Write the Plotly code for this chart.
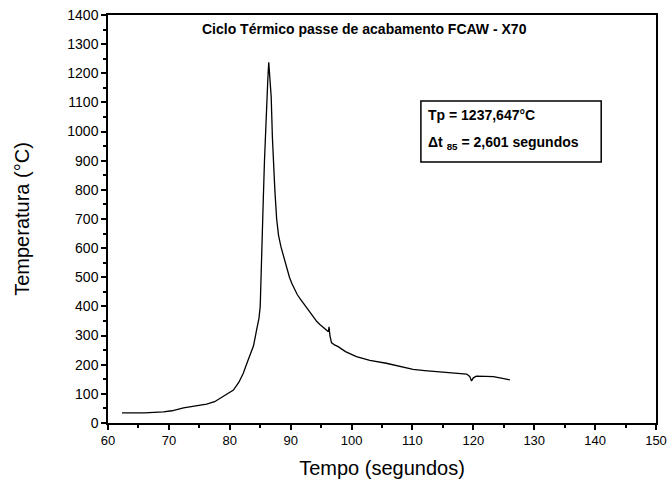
import plotly.graph_objects as go

# Thermal cycle of the FCAW finishing pass (X70 steel)
tempo = [62.3, 66.0, 69.1, 70.5, 72.4, 74.5, 76.2, 77.5, 78.4, 79.6, 80.6, 81.5,
         82.2, 83.0, 83.9, 84.4, 84.8, 85.0, 85.1, 85.2, 85.35, 85.5, 85.7,
         85.9, 86.1, 86.25, 86.4,
         86.6, 86.8, 87.0, 87.2, 87.4, 87.7, 88.0, 88.4, 88.8, 89.3, 89.8,
         90.2, 90.7, 91.1, 91.6, 92.1, 92.6, 93.2, 93.8, 94.3, 94.8, 95.3,
         95.8, 96.2, 96.3, 96.45, 96.7, 97.2, 97.8, 99.0, 100.8, 103.0,
         105.7, 108.0, 110.1, 112.0, 114.5, 117.0, 118.9, 119.4, 119.7, 120.0,
         120.5, 122.0, 123.3, 124.8, 126.0]
temperatura = [35, 35, 38, 42, 52, 58, 65, 73, 85, 98, 113, 140,
               170, 215, 265, 319, 360, 400, 460, 536, 650, 765, 900,
               1030, 1140, 1180, 1237.6,
               1175, 1120, 980, 880, 800, 700, 645, 605, 575, 535, 500,
               479, 457, 440, 425, 411, 395, 378, 362, 348, 338, 328,
               320, 313, 330, 300, 276, 268, 262, 245, 228, 215,
               205, 193, 184, 180, 176, 171, 168, 160, 144, 155,
               161, 160, 159, 153, 148]

x_ticks = list(range(60, 151, 10))
y_ticks = list(range(0, 1401, 100))

titulo = "Ciclo Térmico passe de acabamento FCAW - X70"
rotulo_x = "Tempo (segundos)"
rotulo_y = "Temperatura (°C)"
linha_tp = "<b>Tp = 1237,647°C</b>"
linha_dt = "<b>Δt <sub>85</sub> = 2,601 segundos</b>"

FONTE = "Liberation Sans, Arial"

fig = go.Figure()
fig.add_trace(go.Scatter(x=tempo, y=temperatura, mode="lines",
                         line=dict(color="black", width=1.3),
                         showlegend=False))

axis_common = dict(showline=True, linecolor="black", linewidth=1.5,
                   mirror=True, ticks="outside", ticklen=5, tickwidth=1.5,
                   tickcolor="black", showgrid=False, zeroline=False,
                   automargin=False)

fig.update_xaxes(range=[60, 150], tickvals=x_ticks,
                 tickfont=dict(family=FONTE, size=13, color="black"),
                 title=dict(text=rotulo_x, standoff=14,
                            font=dict(family=FONTE, size=20, color="black")),
                 minor=dict(ticks="outside", ticklen=3, tickwidth=1.5,
                            tickcolor="black", dtick=5),
                 **axis_common)
fig.update_yaxes(range=[0, 1400], tickvals=y_ticks,
                 tickfont=dict(family=FONTE, size=14, color="black"),
                 title=dict(text=rotulo_y, standoff=32,
                            font=dict(family=FONTE, size=20, color="black")),
                 minor=dict(ticks="outside", ticklen=3, tickwidth=1.5,
                            tickcolor="black", dtick=50),
                 **axis_common)

# chart title inside the frame
fig.add_annotation(text=f"<b>{titulo}</b>", xref="paper", yref="paper",
                   x=0.468, y=0.965, xanchor="center", yanchor="middle",
                   showarrow=False,
                   font=dict(family=FONTE, size=14, color="black"))

# result box: frame plus two text lines
fig.add_shape(type="rect", xref="paper", yref="paper",
              x0=0.571, x1=0.900, y0=0.640, y1=0.789,
              line=dict(color="black", width=1.5), fillcolor="white",
              layer="above")
fig.add_annotation(text=linha_tp, xref="paper", yref="paper",
                   x=0.580, y=0.755, xanchor="left", yanchor="middle",
                   showarrow=False,
                   font=dict(family=FONTE, size=14, color="black"))
fig.add_annotation(text=linha_dt, xref="paper", yref="paper",
                   x=0.580, y=0.686, xanchor="left", yanchor="middle",
                   showarrow=False,
                   font=dict(family=FONTE, size=14, color="black"))

fig.update_layout(width=668, height=486,
                  margin=dict(l=108, r=12, t=15, b=63),
                  plot_bgcolor="white", paper_bgcolor="white")

fig.write_html("out.html")
